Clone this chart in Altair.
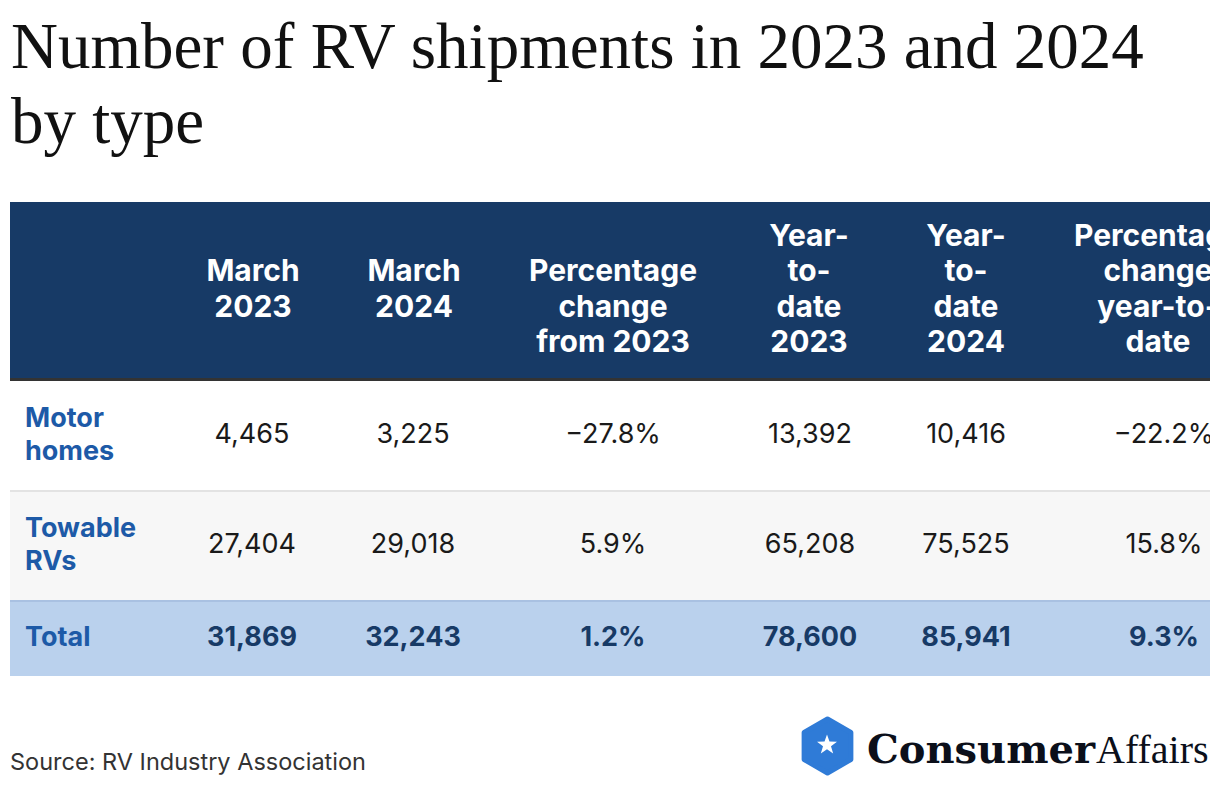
import math
import altair as alt
import pandas as pd

# ---------------- data ----------------
title_lines = ["Number of RV shipments in 2023 and 2024", "by type"]
types = ["Motor homes", "Towable RVs", "Total"]
row_labels = ["Motor\nhomes", "Towable\nRVs", "Total"]
columns = [
    "March 2023",
    "March 2024",
    "Percentage change from 2023",
    "Year-to-date 2023",
    "Year-to-date 2024",
    "Percentage change year-to-date",
]
header_labels = [
    "March\n2023",
    "March\n2024",
    "Percentage\nchange\nfrom 2023",
    "Year-\nto-\ndate\n2023",
    "Year-\nto-\ndate\n2024",
    "Percentage\nchange\nyear-to-\ndate",
]
march_2023 = [4465, 27404, 31869]
march_2024 = [3225, 29018, 32243]
pct_change_march = [-27.8, 5.9, 1.2]
ytd_2023 = [13392, 65208, 78600]
ytd_2024 = [10416, 75525, 85941]
pct_change_ytd = [-22.2, 15.8, 9.3]
source_text = "Source: RV Industry Association"
brand_bold = "Consumer"
brand_light = "Affairs"

# ---------------- tables ----------------
def fmt_int(v):
    return f"{v:,}"


def fmt_pct(v):
    return f"{v:.1f}%".replace("-", "\u2212")


series = [
    (march_2023, fmt_int),
    (march_2024, fmt_int),
    (pct_change_march, fmt_pct),
    (ytd_2023, fmt_int),
    (ytd_2024, fmt_int),
    (pct_change_ytd, fmt_pct),
]
records = []
for r, t in enumerate(types):
    for c, (vals, f) in enumerate(series):
        records.append(
            {"row": r, "type": t, "col": c, "column": columns[c], "text": f(vals[r]),
             "total": t == "Total"}
        )
cells = pd.DataFrame(records)
labels_df = pd.DataFrame({
    "row": list(range(len(types))),
    "label": row_labels,
    "type": types,
    "multi": ["\n" in s for s in row_labels],
})
max_lines = max(s.count("\n") + 1 for s in header_labels)
# pad at the top so every header is bottom-aligned
header_df = pd.DataFrame({
    "col": list(range(len(columns))),
    "label": ["\n" * (max_lines - 1 - s.count("\n")) + s for s in header_labels],
    "column": columns,
})
one = pd.DataFrame({"a": [0]})

# ---------------- styles ----------------
NAVY = "#173a66"
BLUE = "#1d5aa7"
TOTAL_BG = "#bad1ed"
TOTAL_LINE = "#a9c1e2"
ZEBRA = "#f7f7f7"
SEP = "#e3e3e3"
TXT = "#1a1a1a"

W, H = 1202, 576
HEAD_LH = 35.5

body_x = alt.Scale(domain=[0, 1, 2, 3, 4, 5], range=[244, 405, 605, 802, 958, 1156],
                   zero=False, nice=False)
head_x = alt.Scale(domain=[0, 1, 2, 3, 4, 5], range=[245, 406, 605, 801, 958, 1150],
                   zero=False, nice=False)
row_y = alt.Scale(domain=[0, 1, 2], range=[233, 343, 436], zero=False, nice=False)


def band(y0, y1, color):
    return alt.Chart(one).mark_rect(color=color).encode(
        x=alt.value(2), x2=alt.value(W), y=alt.value(y0), y2=alt.value(y1)
    )


bands = [
    band(0, 176, NAVY),
    band(176, 179, "#333333"),
    band(288, 290, SEP),
    band(290, 398, ZEBRA),
    band(398, 400, TOTAL_LINE),
    band(400, 474, TOTAL_BG),
]

header = alt.Chart(header_df).mark_text(
    font="Inter", fontSize=30, fontWeight="bold", color="white", align="center",
    baseline="alphabetic", lineBreak="\n", lineHeight=HEAD_LH, clip=True
).encode(
    x=alt.X("col:Q", scale=head_x, axis=None),
    y=alt.value(150 - (max_lines - 1) * HEAD_LH),
    text="label:N",
)

body = alt.Chart(cells).transform_filter("!datum.total").mark_text(
    font="Inter", fontSize=27, color=TXT, align="center", baseline="middle", clip=True
).encode(
    x=alt.X("col:Q", scale=body_x, axis=None),
    y=alt.Y("row:Q", scale=row_y, axis=None),
    text="text:N",
)

body_total = alt.Chart(cells).transform_filter("datum.total").mark_text(
    font="Inter", fontSize=27, fontWeight="bold", color=NAVY, align="center",
    baseline="middle", clip=True
).encode(
    x=alt.X("col:Q", scale=body_x, axis=None),
    y=alt.Y("row:Q", scale=row_y, axis=None),
    text="text:N",
)

LAB_LH = 33
row_lab_multi = alt.Chart(labels_df).transform_filter("datum.multi").mark_text(
    font="Inter", fontSize=27, fontWeight="bold", color=BLUE, align="left",
    baseline="middle", lineBreak="\n", lineHeight=LAB_LH, dy=-LAB_LH / 2
).encode(
    x=alt.value(17),
    y=alt.Y("row:Q", scale=row_y, axis=None),
    text="label:N",
)
row_lab_single = alt.Chart(labels_df).transform_filter("!datum.multi").mark_text(
    font="Inter", fontSize=27, fontWeight="bold", color=BLUE, align="left",
    baseline="middle"
).encode(
    x=alt.value(17),
    y=alt.Y("row:Q", scale=row_y, axis=None),
    text="label:N",
)

source = alt.Chart(pd.DataFrame({"t": [source_text]})).mark_text(
    font="Inter", fontSize=23.5, color="#333333", align="left", baseline="alphabetic"
).encode(x=alt.value(2), y=alt.value(568), text="t:N")

# logo
hex_path = "M0,-1L0.866,-0.5L0.866,0.5L0,1L-0.866,0.5L-0.866,-0.5Z"
pts = []
for k in range(10):
    a = math.radians(-90 + 36 * k)
    rr = 1.0 if k % 2 == 0 else 0.4
    pts.append(f"{rr * math.cos(a):.4f},{rr * math.sin(a):.4f}")
star_path = "M" + "L".join(pts) + "Z"

hexagon = alt.Chart(one).mark_point(
    shape=hex_path, filled=True, opacity=1, size=2916, color="#2f7bd7",
    stroke="#2f7bd7", strokeWidth=5, strokeJoin="round"
).encode(x=alt.value(819.5), y=alt.value(544))

star = alt.Chart(one).mark_point(
    shape=star_path, filled=True, opacity=1, size=441, color="white", strokeWidth=0
).encode(x=alt.value(819), y=alt.value(543))

brand1 = alt.Chart(pd.DataFrame({"t": [brand_bold]})).mark_text(
    font="DejaVu Serif", fontSize=40, fontWeight="bold", color="#0b0f1a", align="right",
    baseline="alphabetic"
).encode(x=alt.value(1087), y=alt.value(561), text="t:N")

brand2 = alt.Chart(pd.DataFrame({"t": [brand_light]})).mark_text(
    font="Liberation Serif", fontSize=40, color="#0b0f1a", align="left",
    baseline="alphabetic"
).encode(x=alt.value(1088), y=alt.value(561), text="t:N")

chart = alt.layer(
    *bands, header, body, body_total, row_lab_multi, row_lab_single, source,
    hexagon, star, brand1, brand2
).resolve_scale(
    x="independent", y="independent"
).properties(
    width=W,
    height=H,
    padding={"left": 0, "top": 194, "right": 0, "bottom": 0},
    autosize=alt.AutoSizeParams(type="none"),
    background="white",
    title=alt.TitleParams(
        text=title_lines, anchor="start", frame="group", font="Liberation Serif",
        fontSize=65, fontWeight="normal", color="#111111", lineHeight=75, offset=45, dx=3
    ),
).configure_view(stroke=None)

chart.save("out.html", embed_options={"renderer": "svg", "actions": False})
